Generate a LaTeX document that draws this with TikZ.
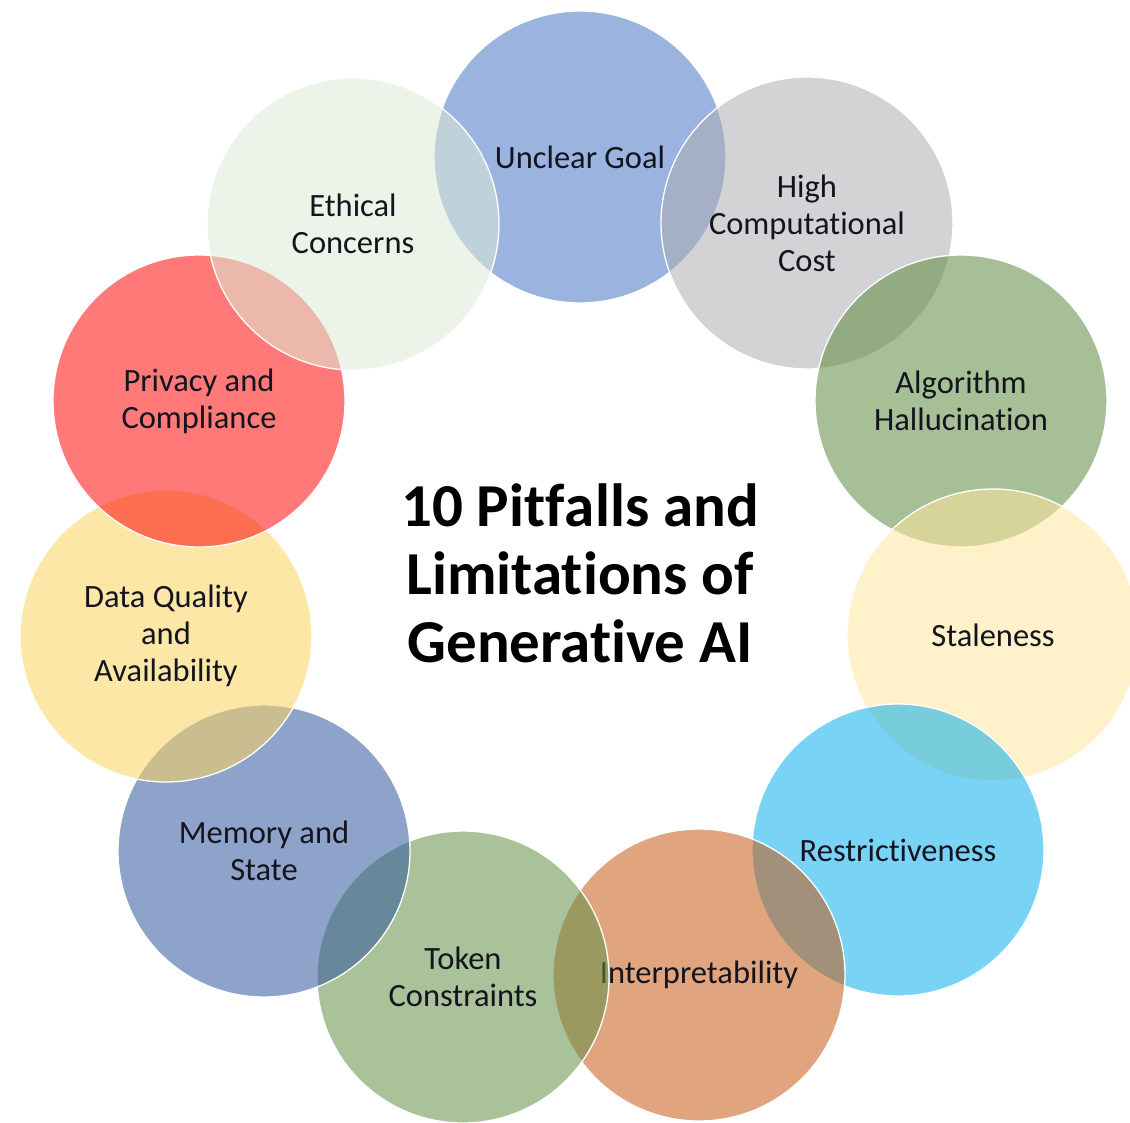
\documentclass[tikz,border=0pt]{standalone}
\usepackage{fontspec}
\setmainfont{Carlito}[Ligatures={NoCommon,NoContextual}]
\newcommand{\nlg}{\kern0pt }
\definecolor{cUnclear}{RGB}{72,117,198}
\definecolor{cHigh}{RGB}{175,175,180}
\definecolor{cAlgo}{RGB}{93,139,64}
\definecolor{cStale}{RGB}{255,230,160}
\definecolor{cRestrict}{RGB}{10,176,238}
\definecolor{cInterp}{RGB}{199,90,22}
\definecolor{cToken}{RGB}{99,144,71}
\definecolor{cMemory}{RGB}{50,88,158}
\definecolor{cData}{RGB}{252,212,96}
\definecolor{cPrivacy}{RGB}{255,12,12}
\definecolor{cEthical}{RGB}{222,236,215}
\definecolor{txt}{RGB}{20,20,30}
\tikzset{
  bub/.style={circle, minimum size=292pt, inner sep=0pt, draw=white, line width=1.3pt,
    fill opacity=0.55, text opacity=1, align=center, text=txt,
    font=\fontsize{32.5}{37}\selectfont},
  ttl/.style={align=center, font=\fontsize{61}{68}\selectfont\bfseries, text=black}
}
\begin{document}
\begin{tikzpicture}[x=1pt,y=-1pt]
\useasboundingbox (0,0) rectangle (1130,1123);
\clip (0,0) rectangle (1130,1123);
\fill[white] (0,0) rectangle (1130,1123);
\node[bub, fill=cUnclear]  (unclear)  at (580,157) {Unclear Goal};
\node[bub, fill=cHigh]     (high)     at (807,223) {High\\Computat\nlg ional\\Cost};
\node[bub, fill=cAlgo]     (algo)     at (961,401) {Algorithm\\Hallucinat\nlg ion};
\node[bub, fill=cStale]    (stale)    at (993,635) {Staleness};
\node[bub, fill=cRestrict] (restrict) at (898,850) {Restrict\nlg iveness};
\node[bub, fill=cInterp]   (interp)   at (699,975) {Interpretability};
\node[bub, fill=cToken]    (token)    at (463,977) {Token\\Constraints};
\node[bub, fill=cMemory]   (memory)   at (264,851) {Memory and\\State};
\node[bub, fill=cData]     (data)     at (166,636) {Data Quality\\and\\Availability};
\node[bub, fill=cPrivacy]  (privacy)  at (199,401) {Privacy and\\Compliance};
\node[bub, fill=cEthical]  (ethical)  at (353,224) {Ethical\\Concerns};
\node[ttl] (title) at (580,573) {10 Pit\nlg f\nlg alls and\\Limitat\nlg ions of\\Generat\nlg ive AI};
\end{tikzpicture}
\end{document}
